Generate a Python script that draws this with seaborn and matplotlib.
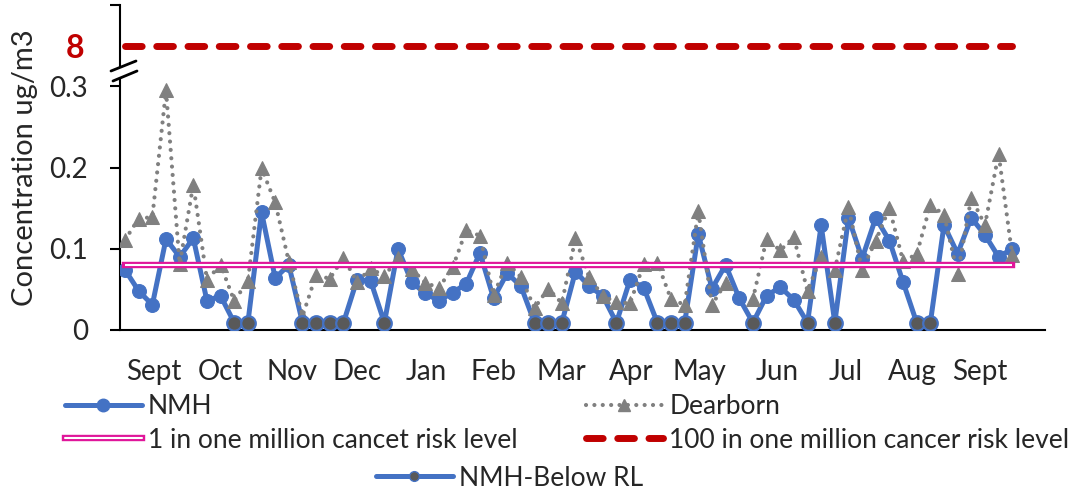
import numpy as np
import pandas as pd
import matplotlib
matplotlib.use("Agg")
import matplotlib.pyplot as plt
import seaborn as sns
from matplotlib.lines import Line2D
from matplotlib.patches import Polygon
from matplotlib.legend_handler import HandlerTuple

# ---------------- data ----------------
nmh = [0.074, 0.048, 0.031, 0.112, 0.090, 0.113, 0.036, 0.042, 0.009, 0.009,
       0.145, 0.064, 0.080, 0.009, 0.009, 0.009, 0.009, 0.062, 0.060, 0.009,
       0.100, 0.059, 0.045, 0.036, 0.046, 0.057, 0.095, 0.039, 0.070, 0.054,
       0.009, 0.009, 0.009, 0.072, 0.054, 0.042, 0.009, 0.062, 0.052, 0.009,
       0.009, 0.009, 0.118, 0.051, 0.080, 0.039, 0.009, 0.042, 0.053, 0.037,
       0.009, 0.129, 0.009, 0.138, 0.088, 0.138, 0.110, 0.059, 0.009, 0.009,
       0.129, 0.094, 0.138, 0.117, 0.090, 0.100]
dearborn = [0.111, 0.137, 0.139, 0.295, 0.081, 0.179, 0.062, 0.080, 0.036, 0.060,
            0.199, 0.157, 0.084, 0.017, 0.068, 0.063, 0.089, 0.059, 0.076, 0.066,
            0.089, 0.075, 0.058, 0.052, 0.077, 0.123, 0.116, 0.043, 0.083, 0.065,
            0.027, 0.051, 0.033, 0.113, 0.065, 0.042, 0.034, 0.033, 0.081, 0.083,
            0.038, 0.031, 0.146, 0.031, 0.058, np.nan, 0.038, 0.112, 0.098, 0.114,
            0.048, 0.090, 0.074, 0.151, 0.074, 0.110, 0.150, 0.085, 0.093, 0.154,
            0.142, 0.069, 0.163, 0.129, 0.217, 0.092]
below_rl_idx = [8, 9, 13, 14, 15, 16, 19, 30, 31, 32, 36, 39, 40, 41, 46, 50, 52, 58, 59]
months = ["Sept", "Oct", "Nov", "Dec", "Jan", "Feb", "Mar", "Apr", "May",
          "Jun", "Jul", "Aug", "Sept"]
month_ticks = [2.1, 7.0, 12.2, 17.0, 22.1, 27.0, 32.0, 37.1, 42.1, 47.8, 52.8, 57.7, 62.6]
risk_1_level = 0.08          # 1 in one million
risk_100_label = "8"         # 100 in one million (shown above axis break)
risk_100_pos = 0.35          # drawn position on the broken axis
y_ticks = [0, 0.1, 0.2, 0.3]
y_tick_labels = ["0", "0.1", "0.2", "0.3"]

BLUE = "#4472C4"
GRAY = "#808080"
DARK = "#595959"
PINK = "#E0169A"
RED = "#C00000"

# ---------------- style ----------------
sns.set_theme(style="white")
plt.rcParams['font.family'] = ['Lato', 'DejaVu Sans']

W, H = 1078, 493
fig = plt.figure(figsize=(W / 100, H / 100), dpi=100)
ax = fig.add_axes([120 / W, 1 - 330 / H, 925 / W, 325 / H])

n = len(nmh)
idx = np.arange(n)
df = pd.DataFrame({"idx": idx, "NMH": nmh, "Dearborn": dearborn})
df["seg"] = df["Dearborn"].isna().cumsum()

DOTS = (0, (0.01, 2.0))

# NMH line
sns.lineplot(data=df, x="idx", y="NMH", ax=ax, color=BLUE, lw=3.6,
             marker="o", markersize=10, markeredgecolor=BLUE, zorder=3)
# Dearborn dotted with triangles (gap at missing value)
sns.lineplot(data=df.dropna(), x="idx", y="Dearborn", units="seg", estimator=None,
             ax=ax, color=GRAY, lw=3.0, linestyle=DOTS,
             dash_capstyle="round", marker="^", markersize=10,
             markeredgecolor=GRAY, zorder=4)
# NMH below reporting limit
brl = df.loc[below_rl_idx]
sns.scatterplot(data=brl, x="idx", y="NMH", ax=ax, color=DARK, edgecolor=BLUE,
                linewidth=1.6, s=110, zorder=5)

# risk levels
ends = pd.DataFrame({"idx": [idx[0], idx[-1]],
                     "r1": [risk_1_level] * 2, "r100": [risk_100_pos] * 2})
sns.lineplot(data=ends, x="idx", y="r1", ax=ax, color=PINK, lw=4.6,
             solid_capstyle="projecting", zorder=6)
sns.lineplot(data=ends, x="idx", y="r1", ax=ax, color="white", lw=1.5,
             solid_capstyle="butt", zorder=7)
sns.lineplot(data=ends, x="idx", y="r100", ax=ax, color=RED, lw=5,
             linestyle=(0, (2.4, 2.1)), dash_capstyle="round", zorder=6)

ax.set_xlim(-0.37, 67.4)
ax.set_ylim(0, 0.4)
ax.set_xlabel("")
ax.set_ylabel("Concentration ug/m3", fontsize=21, labelpad=8)

ax.set_yticks(y_ticks + [risk_100_pos, 0.4])
ax.set_yticklabels(y_tick_labels + [risk_100_label, ""])
ax.tick_params(axis="y", which="both", left=True, length=7, width=1.5,
               color="black", labelsize=20, pad=16, direction="out")
ticks = ax.yaxis.get_major_ticks()
t8 = ticks[4]
t8.tick1line.set_visible(False)
t8.label1.set_color(RED)
t8.label1.set_fontweight("bold")
t8.label1.set_fontsize(23)
t8.set_pad(19)

ax.set_xticks(month_ticks)
ax.set_xticklabels(months)
ax.tick_params(axis="x", length=0, labelsize=20, pad=21)

for s in ["top", "right"]:
    ax.spines[s].set_visible(False)
for s in ["left", "bottom"]:
    ax.spines[s].set_color("black")
    ax.spines[s].set_linewidth(1.5)
ax.grid(False)

# axis break symbol
def ax_xy(px, py):
    return ((px - 120) / 925, (330 - py) / 325)
poly = Polygon([ax_xy(111, 71), ax_xy(136, 61), ax_xy(137, 71), ax_xy(113, 81)],
               closed=True, transform=ax.transAxes, facecolor="white",
               edgecolor="none", clip_on=False, zorder=10)
ax.add_patch(poly)
for (a, b) in [((111, 71), (136, 61)), ((113, 81), (137, 71))]:
    p0, p1 = ax_xy(*a), ax_xy(*b)
    ax.add_line(Line2D([p0[0], p1[0]], [p0[1], p1[1]], transform=ax.transAxes,
                       color="black", lw=2, clip_on=False, zorder=11))

# ---------------- legend ----------------
h_nmh = Line2D([], [], color=BLUE, lw=3.6, marker="o", markersize=9,
               markeredgecolor=BLUE)
h_dear = Line2D([], [], color=GRAY, lw=3.0, linestyle=DOTS,
                dash_capstyle="round", marker="^", markersize=9,
                markeredgecolor=GRAY)
h_pink = (Line2D([], [], color=PINK, lw=4.6, solid_capstyle="projecting"),
          Line2D([], [], color="white", lw=1.5))
h_red = Line2D([], [], color=RED, lw=5, linestyle=(0, (2.4, 2.1)),
               dash_capstyle="round")
h_brl = Line2D([], [], color=BLUE, lw=3.6, marker="o", markersize=7,
               markerfacecolor=DARK, markeredgecolor=BLUE)

entries = [(h_nmh, "NMH", 65, 407), (h_dear, "Dearborn", 586, 407),
           (h_pink, "1 in one million cancet risk level", 65, 440),
           (h_red, "100 in one million cancer risk level", 586, 440),
           (h_brl, "NMH-Below RL", 376, 478)]
for h, lab, px, py in entries:
    fig.legend(handles=[h], labels=[lab], loc="center left",
               bbox_to_anchor=(px / W, 1 - py / H), frameon=False,
               borderpad=0, borderaxespad=0, handlelength=2.9,
               handletextpad=0.25, numpoints=1, fontsize=19,
               handler_map={tuple: HandlerTuple(ndivide=1)})

fig.savefig("out.png", dpi=100)
